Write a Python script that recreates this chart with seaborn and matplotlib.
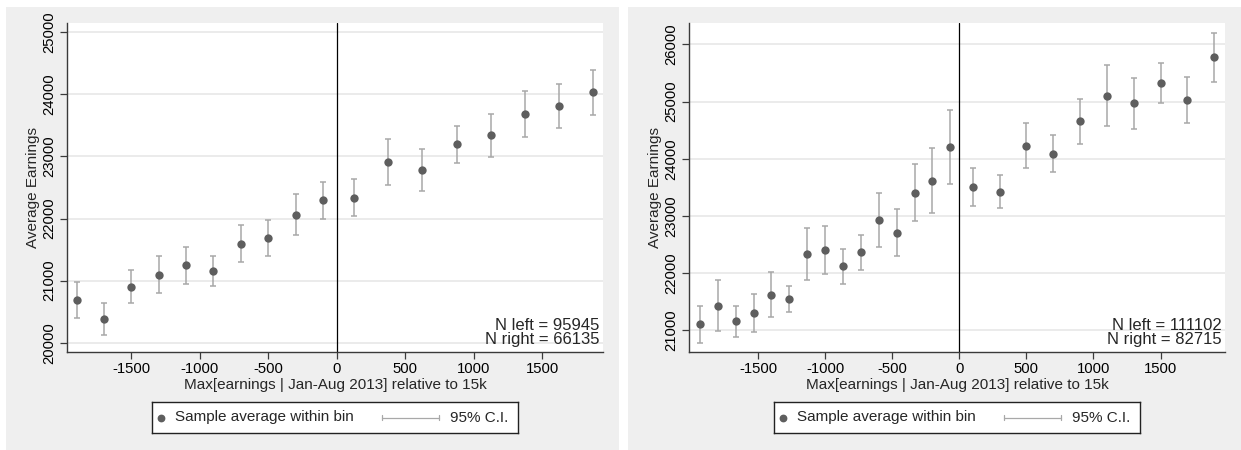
import numpy as np
import pandas as pd
import matplotlib
matplotlib.use("Agg")
import matplotlib.pyplot as plt
from matplotlib.patches import Rectangle
import seaborn as sns

# ---------------- data ----------------
# Left panel
left_x = [-1900, -1700, -1500, -1300, -1100, -900, -700, -500, -300, -100,
          125, 375, 625, 875, 1125, 1375, 1625, 1875]
left_mean = [20687, 20376, 20897, 21096, 21251, 21155, 21595, 21681, 22057, 22293,
             22336, 22905, 22782, 23196, 23340, 23679, 23813, 24033]
left_lo = [20403, 20124, 20634, 20795, 20951, 20913, 21294, 21396, 21735, 21998,
           22041, 22540, 22444, 22889, 22997, 23319, 23459, 23668]
left_hi = [20983, 20634, 21165, 21396, 21547, 21396, 21896, 21971, 22390, 22589,
           22637, 23276, 23126, 23496, 23690, 24049, 24168, 24398]
left_yticks = [20000, 21000, 22000, 23000, 24000, 25000]
left_n = ["N left = 95945", "N right = 66135"]

# Right panel
right_x = [-1933, -1800, -1667, -1533, -1400, -1267, -1133, -1000, -867, -733,
           -600, -467, -333, -200, -67,
           100, 300, 500, 700, 900, 1100, 1300, 1500, 1700, 1900]
right_mean = [21105, 21432, 21158, 21303, 21624, 21548, 22330, 22406, 22120, 22365,
              22931, 22709, 23398, 23614, 24203,
              23509, 23421, 24232, 24092, 24664, 25102, 24967, 25323, 25026, 25772]
right_lo = [20784, 20982, 20883, 20977, 21228, 21321, 21875, 21992, 21811, 22062,
            22464, 22295, 22908, 23048, 23561,
            23182, 23135, 23835, 23765, 24267, 24571, 24524, 24984, 24624, 25347]
right_hi = [21426, 21887, 21426, 21630, 22021, 21776, 22785, 22826, 22424, 22674,
            23398, 23124, 23900, 24191, 24851,
            23847, 23719, 24629, 24419, 25049, 25633, 25416, 25668, 25435, 26204]
right_yticks = [21000, 22000, 23000, 24000, 25000, 26000]
right_n = ["N left = 111102", "N right = 82715"]

xticks = [-1500, -1000, -500, 0, 500, 1000, 1500]
xlabel = "Max[earnings | Jan-Aug 2013] relative to 15k"
ylabel = "Average Earnings"
legend_labels = ["Sample average within bin", "95% C.I."]

# ---------------- style ----------------
sns.set_theme(style="white")
plt.rcParams['font.family'] = ['Liberation Sans', 'DejaVu Sans']
plt.rcParams['axes.unicode_minus'] = False

W, H = 1241, 450
fig = plt.figure(figsize=(W / 100, H / 100), dpi=100)
fig.patch.set_facecolor("white")

PANEL_BG = "#efefef"
DOT = "#5e5e5e"
CI = "#a8a8a8"
GRID = "#e8e8e8"
AXC = "#3a3a3a"
FS_TICK = 10.7
FS_LAB = 11.0
FS_N = 12.0
FS_LEG = 11.0


def fig_rect(x0, y0, x1, y1):
    """pixel box (top-left origin) -> figure fraction [l, b, w, h]"""
    return [x0 / W, 1 - y1 / H, (x1 - x0) / W, (y1 - y0) / H]


def panel(bg_box, ax_box, leg_box, xs, mean, lo, hi, yticks, ylim, xlim, ntext):
    l, b, w, h = fig_rect(*bg_box)
    fig.patches.append(Rectangle((l, b), w, h, transform=fig.transFigure,
                                 facecolor=PANEL_BG, edgecolor="none", zorder=-10))
    ax = fig.add_axes(fig_rect(*ax_box))
    ax.set_facecolor("white")
    df = pd.DataFrame({"x": xs, "mean": mean, "lo": lo, "hi": hi})
    yerr = np.vstack([df["mean"] - df["lo"], df["hi"] - df["mean"]])
    ax.errorbar(df["x"], df["mean"], yerr=yerr, fmt="none", ecolor=CI,
                elinewidth=1.1, capsize=2.5, capthick=1.1, zorder=2)
    sns.scatterplot(data=df, x="x", y="mean", ax=ax, color=DOT, s=36,
                    edgecolor=DOT, linewidth=0, zorder=3, legend=False)
    ax.axvline(0, color="black", lw=0.9, zorder=1)
    ax.set_xlim(*xlim)
    ax.set_ylim(*ylim)
    ax.set_xticks(xticks)
    ax.set_yticks(yticks)
    ax.yaxis.grid(True, color=GRID, lw=1.2)
    ax.set_axisbelow(True)
    for s in ["top", "right"]:
        ax.spines[s].set_visible(False)
    for s in ["left", "bottom"]:
        ax.spines[s].set_color(AXC)
        ax.spines[s].set_linewidth(1.0)
    ax.tick_params(axis="both", which="major", direction="out", length=5,
                   width=0.9, color=AXC, labelsize=FS_TICK, labelcolor="black",
                   bottom=True, left=True, pad=2.5)
    for t in ax.get_yticklabels():
        t.set_rotation(90)
        t.set_va("center")
    ax.set_xlabel(xlabel, fontsize=FS_LAB, labelpad=1)
    ax.set_ylabel(ylabel, fontsize=FS_LAB, labelpad=2)
    ax.text(0.994, 0.014, "\n".join(ntext), transform=ax.transAxes,
            ha="right", va="bottom", fontsize=FS_N, multialignment="right",
            linespacing=0.95)

    # legend box (drawn in its own small axes, pixel units)
    lax = fig.add_axes(fig_rect(*leg_box))
    lw_, lh_ = leg_box[2] - leg_box[0], leg_box[3] - leg_box[1]
    lax.set_xlim(0, lw_)
    lax.set_ylim(0, lh_)
    lax.set_xticks([])
    lax.set_yticks([])
    lax.set_facecolor("white")
    for s in lax.spines.values():
        s.set_color("#222222")
        s.set_linewidth(1.0)
    cy = lh_ / 2
    lax.plot([9.5], [cy], marker="o", color=DOT, markersize=4.6, linestyle="none")
    lax.text(23.5, cy, legend_labels[0], va="center", ha="left", fontsize=FS_LEG)
    x0, x1 = 230, 287
    lax.plot([x0, x1], [cy, cy], color=CI, lw=0.9)
    lax.plot([x0, x0], [cy - 2.5, cy + 2.5], color=CI, lw=0.9)
    lax.plot([x1, x1], [cy - 2.5, cy + 2.5], color=CI, lw=0.9)
    lax.text(298, cy, legend_labels[1], va="center", ha="left", fontsize=FS_LEG)
    return ax


panel((6, 7, 619, 450), (67, 23, 603, 352), (151.5, 402, 518, 433),
      left_x, left_mean, left_lo, left_hi, left_yticks, (19850, 25150),
      (-1970, 1945), left_n)
panel((628, 7, 1241, 450), (689, 23, 1225, 352), (773.5, 402, 1140, 433),
      right_x, right_mean, right_lo, right_hi, right_yticks, (20620, 26375),
      (-2014, 1980), right_n)

fig.savefig("out.png", dpi=100, facecolor=fig.get_facecolor())
